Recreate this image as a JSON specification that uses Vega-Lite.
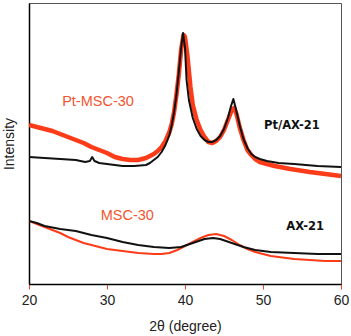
{
  "$schema": "https://vega.github.io/schema/vega-lite/v6.json",
  "width": 312,
  "height": 281,
  "autosize": {"type": "none"},
  "padding": {"left": 29, "top": 3, "right": 10, "bottom": 52},
  "background": "white",
  "config": {
    "view": {"stroke": "#555", "strokeWidth": 1},
    "font": "Liberation Sans"
  },
  "datasets": {
    "curves": [
      {"s": "Pt-MSC-30", "x": 20, "y": 159}, {"s": "Pt-MSC-30", "x": 21, "y": 157}, {"s": "Pt-MSC-30", "x": 22, "y": 155}, {"s": "Pt-MSC-30", "x": 23, "y": 153}, {"s": "Pt-MSC-30", "x": 24, "y": 150}, {"s": "Pt-MSC-30", "x": 25, "y": 147}, {"s": "Pt-MSC-30", "x": 26, "y": 144}, {"s": "Pt-MSC-30", "x": 27, "y": 141}, {"s": "Pt-MSC-30", "x": 28, "y": 137}, {"s": "Pt-MSC-30", "x": 29, "y": 134}, {"s": "Pt-MSC-30", "x": 30, "y": 131}, {"s": "Pt-MSC-30", "x": 31, "y": 127}, {"s": "Pt-MSC-30", "x": 32, "y": 125}, {"s": "Pt-MSC-30", "x": 33, "y": 124}, {"s": "Pt-MSC-30", "x": 34, "y": 124}, {"s": "Pt-MSC-30", "x": 35, "y": 126}, {"s": "Pt-MSC-30", "x": 35.5, "y": 128}, {"s": "Pt-MSC-30", "x": 36, "y": 130}, {"s": "Pt-MSC-30", "x": 36.5, "y": 133}, {"s": "Pt-MSC-30", "x": 37, "y": 137}, {"s": "Pt-MSC-30", "x": 37.5, "y": 143}, {"s": "Pt-MSC-30", "x": 38, "y": 152}, {"s": "Pt-MSC-30", "x": 38.3, "y": 160}, {"s": "Pt-MSC-30", "x": 38.6, "y": 172}, {"s": "Pt-MSC-30", "x": 38.9, "y": 189}, {"s": "Pt-MSC-30", "x": 39.2, "y": 209}, {"s": "Pt-MSC-30", "x": 39.5, "y": 234}, {"s": "Pt-MSC-30", "x": 39.8, "y": 249}, {"s": "Pt-MSC-30", "x": 40.0, "y": 247}, {"s": "Pt-MSC-30", "x": 40.3, "y": 229}, {"s": "Pt-MSC-30", "x": 40.7, "y": 197}, {"s": "Pt-MSC-30", "x": 41.0, "y": 179}, {"s": "Pt-MSC-30", "x": 41.5, "y": 164}, {"s": "Pt-MSC-30", "x": 42.0, "y": 154}, {"s": "Pt-MSC-30", "x": 42.5, "y": 147}, {"s": "Pt-MSC-30", "x": 43.0, "y": 142}, {"s": "Pt-MSC-30", "x": 43.5, "y": 141}, {"s": "Pt-MSC-30", "x": 44.0, "y": 143}, {"s": "Pt-MSC-30", "x": 44.5, "y": 147}, {"s": "Pt-MSC-30", "x": 45.0, "y": 154}, {"s": "Pt-MSC-30", "x": 45.5, "y": 164}, {"s": "Pt-MSC-30", "x": 46.0, "y": 174}, {"s": "Pt-MSC-30", "x": 46.3, "y": 176}, {"s": "Pt-MSC-30", "x": 46.6, "y": 170}, {"s": "Pt-MSC-30", "x": 47.0, "y": 157}, {"s": "Pt-MSC-30", "x": 47.5, "y": 144}, {"s": "Pt-MSC-30", "x": 48.0, "y": 134}, {"s": "Pt-MSC-30", "x": 48.5, "y": 129}, {"s": "Pt-MSC-30", "x": 49.0, "y": 125}, {"s": "Pt-MSC-30", "x": 49.6, "y": 122}, {"s": "Pt-MSC-30", "x": 50.5, "y": 120}, {"s": "Pt-MSC-30", "x": 51.5, "y": 118}, {"s": "Pt-MSC-30", "x": 53.5, "y": 115}, {"s": "Pt-MSC-30", "x": 56, "y": 112}, {"s": "Pt-MSC-30", "x": 58, "y": 110}, {"s": "Pt-MSC-30", "x": 60, "y": 108},

      {"s": "MSC-30", "x": 20, "y": 63}, {"s": "MSC-30", "x": 21, "y": 60}, {"s": "MSC-30", "x": 22, "y": 57}, {"s": "MSC-30", "x": 23, "y": 54}, {"s": "MSC-30", "x": 24, "y": 51}, {"s": "MSC-30", "x": 25, "y": 47}, {"s": "MSC-30", "x": 26, "y": 44}, {"s": "MSC-30", "x": 27, "y": 41}, {"s": "MSC-30", "x": 28, "y": 39}, {"s": "MSC-30", "x": 29, "y": 37}, {"s": "MSC-30", "x": 30, "y": 35}, {"s": "MSC-30", "x": 31, "y": 34}, {"s": "MSC-30", "x": 32, "y": 33}, {"s": "MSC-30", "x": 34, "y": 31}, {"s": "MSC-30", "x": 36, "y": 30}, {"s": "MSC-30", "x": 37, "y": 30}, {"s": "MSC-30", "x": 38, "y": 31}, {"s": "MSC-30", "x": 39, "y": 34}, {"s": "MSC-30", "x": 40, "y": 38}, {"s": "MSC-30", "x": 41, "y": 42}, {"s": "MSC-30", "x": 42, "y": 46}, {"s": "MSC-30", "x": 43, "y": 49}, {"s": "MSC-30", "x": 44, "y": 50}, {"s": "MSC-30", "x": 45, "y": 48}, {"s": "MSC-30", "x": 46, "y": 44}, {"s": "MSC-30", "x": 47, "y": 39}, {"s": "MSC-30", "x": 48, "y": 35}, {"s": "MSC-30", "x": 49, "y": 32}, {"s": "MSC-30", "x": 50, "y": 30}, {"s": "MSC-30", "x": 51, "y": 28}, {"s": "MSC-30", "x": 52, "y": 27}, {"s": "MSC-30", "x": 54, "y": 25}, {"s": "MSC-30", "x": 56, "y": 24}, {"s": "MSC-30", "x": 58, "y": 23}, {"s": "MSC-30", "x": 60, "y": 23},

      {"s": "Pt/AX-21", "x": 20, "y": 127}, {"s": "Pt/AX-21", "x": 22, "y": 126}, {"s": "Pt/AX-21", "x": 24, "y": 125}, {"s": "Pt/AX-21", "x": 26, "y": 124}, {"s": "Pt/AX-21", "x": 27.2, "y": 122}, {"s": "Pt/AX-21", "x": 27.8, "y": 123}, {"s": "Pt/AX-21", "x": 28.1, "y": 127}, {"s": "Pt/AX-21", "x": 28.4, "y": 123}, {"s": "Pt/AX-21", "x": 29, "y": 121}, {"s": "Pt/AX-21", "x": 30, "y": 120}, {"s": "Pt/AX-21", "x": 31, "y": 119}, {"s": "Pt/AX-21", "x": 32, "y": 118}, {"s": "Pt/AX-21", "x": 33.5, "y": 118}, {"s": "Pt/AX-21", "x": 35, "y": 119}, {"s": "Pt/AX-21", "x": 35.5, "y": 121}, {"s": "Pt/AX-21", "x": 36, "y": 124}, {"s": "Pt/AX-21", "x": 36.5, "y": 127}, {"s": "Pt/AX-21", "x": 37, "y": 132}, {"s": "Pt/AX-21", "x": 37.5, "y": 139}, {"s": "Pt/AX-21", "x": 38, "y": 149}, {"s": "Pt/AX-21", "x": 38.3, "y": 159}, {"s": "Pt/AX-21", "x": 38.6, "y": 172}, {"s": "Pt/AX-21", "x": 38.9, "y": 189}, {"s": "Pt/AX-21", "x": 39.2, "y": 212}, {"s": "Pt/AX-21", "x": 39.5, "y": 236}, {"s": "Pt/AX-21", "x": 39.75, "y": 251}, {"s": "Pt/AX-21", "x": 40.0, "y": 236}, {"s": "Pt/AX-21", "x": 40.2, "y": 204}, {"s": "Pt/AX-21", "x": 40.5, "y": 184}, {"s": "Pt/AX-21", "x": 41.0, "y": 166}, {"s": "Pt/AX-21", "x": 41.5, "y": 155}, {"s": "Pt/AX-21", "x": 42.0, "y": 148}, {"s": "Pt/AX-21", "x": 42.5, "y": 144}, {"s": "Pt/AX-21", "x": 43.0, "y": 142}, {"s": "Pt/AX-21", "x": 43.5, "y": 142}, {"s": "Pt/AX-21", "x": 44.0, "y": 144}, {"s": "Pt/AX-21", "x": 44.5, "y": 148}, {"s": "Pt/AX-21", "x": 45.0, "y": 155}, {"s": "Pt/AX-21", "x": 45.5, "y": 166}, {"s": "Pt/AX-21", "x": 45.9, "y": 178}, {"s": "Pt/AX-21", "x": 46.2, "y": 185}, {"s": "Pt/AX-21", "x": 46.5, "y": 176}, {"s": "Pt/AX-21", "x": 47.0, "y": 159}, {"s": "Pt/AX-21", "x": 47.5, "y": 145}, {"s": "Pt/AX-21", "x": 48.0, "y": 136}, {"s": "Pt/AX-21", "x": 48.5, "y": 130}, {"s": "Pt/AX-21", "x": 49.0, "y": 127}, {"s": "Pt/AX-21", "x": 49.6, "y": 125}, {"s": "Pt/AX-21", "x": 50.5, "y": 123}, {"s": "Pt/AX-21", "x": 52, "y": 121}, {"s": "Pt/AX-21", "x": 54, "y": 120}, {"s": "Pt/AX-21", "x": 57, "y": 118}, {"s": "Pt/AX-21", "x": 60, "y": 117},

      {"s": "AX-21", "x": 20, "y": 63}, {"s": "AX-21", "x": 21, "y": 61}, {"s": "AX-21", "x": 22, "y": 58}, {"s": "AX-21", "x": 24, "y": 55}, {"s": "AX-21", "x": 26, "y": 53}, {"s": "AX-21", "x": 28, "y": 49}, {"s": "AX-21", "x": 30, "y": 46}, {"s": "AX-21", "x": 32, "y": 42}, {"s": "AX-21", "x": 34, "y": 39}, {"s": "AX-21", "x": 36, "y": 37}, {"s": "AX-21", "x": 38, "y": 36}, {"s": "AX-21", "x": 39.5, "y": 37}, {"s": "AX-21", "x": 41, "y": 41}, {"s": "AX-21", "x": 42.5, "y": 45}, {"s": "AX-21", "x": 43.6, "y": 46}, {"s": "AX-21", "x": 44.5, "y": 45}, {"s": "AX-21", "x": 46, "y": 41}, {"s": "AX-21", "x": 47.5, "y": 37}, {"s": "AX-21", "x": 49, "y": 34}, {"s": "AX-21", "x": 51, "y": 32}, {"s": "AX-21", "x": 54, "y": 31}, {"s": "AX-21", "x": 57, "y": 30}, {"s": "AX-21", "x": 60, "y": 30}
    ],
    "labels": [
      {"s": "Pt-MSC-30", "x": 28.85, "y": 182, "kind": "red"},
      {"s": "MSC-30", "x": 32.6, "y": 68, "kind": "red"},
      {"s": "Pt/AX-21", "x": 53.7, "y": 158, "kind": "black"},
      {"s": "AX-21", "x": 55.4, "y": 57, "kind": "black"}
    ]
  },
  "layer": [
    {
      "data": {"name": "curves"},
      "transform": [{"filter": "datum.s === 'Pt-MSC-30' || datum.s === 'MSC-30'"}],
      "mark": {"type": "line", "color": "#fc3c18", "strokeJoin": "round", "clip": true},
      "encoding": {
        "x": {
          "field": "x", "type": "quantitative",
          "scale": {"domain": [20, 60], "nice": false, "zero": false},
          "axis": {
            "values": [20, 30, 40, 50, 60],
            "title": "2θ (degree)",
            "titleFont": "Liberation Sans", "titleFontSize": 14, "titleFontWeight": "normal", "titleColor": "#222",
            "titlePadding": 12,
            "labelFont": "Liberation Sans", "labelFontSize": 14, "labelColor": "#222", "labelPadding": 4,
            "labelFlush": false,
            "domainColor": "#000", "domainWidth": 1.5,
            "tickColor": "#f04a2a", "tickSize": 5, "tickWidth": 1,
            "grid": false
          }
        },
        "y": {
          "field": "y", "type": "quantitative",
          "scale": {"domain": [0, 281], "nice": false, "zero": false},
          "axis": {
            "title": "Intensity",
            "titleFont": "Liberation Sans", "titleFontSize": 14, "titleFontWeight": "normal", "titleColor": "#222",
            "titlePadding": 13,
            "labels": false, "ticks": false, "grid": false,
            "domainColor": "#000", "domainWidth": 1.5
          }
        },
        "detail": {"field": "s"},
        "strokeWidth": {"field": "s", "type": "nominal", "legend": null, "scale": {"domain": ["Pt-MSC-30", "MSC-30"], "range": [4.5, 2]}}
      }
    },
    {
      "data": {"name": "curves"},
      "transform": [{"filter": "datum.s === 'Pt/AX-21' || datum.s === 'AX-21'"}],
      "mark": {"type": "line", "color": "#111", "strokeWidth": 2, "strokeJoin": "round", "clip": true},
      "encoding": {
        "x": {"field": "x", "type": "quantitative"},
        "y": {"field": "y", "type": "quantitative"},
        "detail": {"field": "s"}
      }
    },
    {
      "data": {"name": "labels"},
      "transform": [{"filter": "datum.kind === 'red'"}],
      "mark": {"type": "text", "font": "Liberation Sans", "fontSize": 14.5, "color": "#f2552f", "align": "center", "baseline": "middle"},
      "encoding": {
        "x": {"field": "x", "type": "quantitative"},
        "y": {"field": "y", "type": "quantitative"},
        "text": {"field": "s"}
      }
    },
    {
      "data": {"name": "labels"},
      "transform": [{"filter": "datum.kind === 'black'"}],
      "mark": {"type": "text", "font": "DejaVu Sans", "fontWeight": "bold", "fontSize": 11.5, "color": "#111", "align": "center", "baseline": "middle"},
      "encoding": {
        "x": {"field": "x", "type": "quantitative"},
        "y": {"field": "y", "type": "quantitative"},
        "text": {"field": "s"}
      }
    }
  ]
}
